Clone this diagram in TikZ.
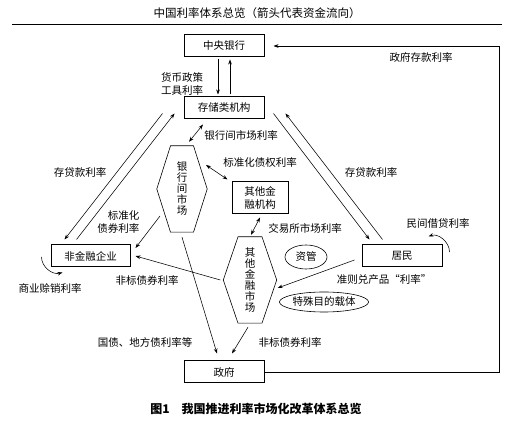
\documentclass[tikz,border=0pt]{standalone}
\usepackage{fontspec}
\setmainfont{Noto Sans CJK SC}
\usetikzlibrary{positioning,arrows.meta,shapes.geometric}
\newcommand{\hexframe}[2]{%
  \draw[line width=0.6pt] ([xshift=-#2]#1.north) -- ([xshift=#2]#1.north) -- (#1.east)
    -- ([xshift=#2]#1.south) -- ([xshift=-#2]#1.south) -- (#1.west) -- cycle;}
\tikzset{
  box/.style={draw, line width=1pt, minimum width=80pt, minimum height=22pt, inner sep=0pt},
  hexa/.style={minimum height=86pt, inner sep=0pt, align=center, font=\fontsize{10.5}{11}\selectfont},
  oval/.style={draw, ellipse, inner sep=0pt, line width=0.6pt},
  arr/.style={-{Stealth[length=5pt,width=3.6pt]}, line width=0.55pt},
  darr/.style={{Stealth[length=5pt,width=3.6pt]}-{Stealth[length=5pt,width=3.6pt]}, line width=0.55pt},
}

\begin{document}
\begin{tikzpicture}[x=1pt, y=1pt, font=\fontsize{10.5}{12.5}\selectfont]
  \useasboundingbox (0,0) rectangle (524,430);
  \node (Title) at (257,417) {\fontsize{11.5}{13}\selectfont 中国利率体系总览（箭头代表资金流向）};
  \draw[line width=0.8pt] (12,406) -- (502,406);

  \node[box] (CB) at (224,384) {中央银行};
  \node[box, on grid, below=62pt of CB] (Dep) {存储类机构};
  \node[box, on grid, below=264pt of Dep] (Gov) {政府};
  \node[box, minimum width=79pt, on grid, below left=148pt and 133.5pt of Dep] (NFE) {非金融企业};
  \node[box, on grid, right=311.5pt of NFE] (Res) {居民};
  \node[box, minimum width=56pt, minimum height=32pt, align=center] (OFI) at (260,232) {其他金\\融机构};

  \node[hexa, minimum width=50pt] (IBM) at (182,241) {银\\行\\间\\市\\场};
  \hexframe{IBM}{11.5pt}
  \node[hexa, minimum width=53pt] (OFM) at (250,150) {其\\他\\金\\融\\市\\场};
  \hexframe{OFM}{12pt}
  \node[oval, minimum width=42pt, minimum height=24pt] (AM) at (306,173) {资管};
  \node[oval, minimum width=80pt, minimum height=20pt] (SPV) at (324,128) {特殊目的载体};

  % labels
  \node (LGovDep) at (421,373) {政府存款利率};
  \node[align=center] (LMon) at (182,346) {货币政策\\工具利率};
  \node (LLoanL) at (80,258) {存贷款利率};
  \node (LLoanR) at (371,258) {存贷款利率};
  \node (LIbm) at (241,295) {银行间市场利率};
  \node (LStdDebt) at (260,267) {标准化债权利率};
  \node[align=right, anchor=east] (LStdBond) at (143,208) {标准化\\债券利率};
  \node (LExch) at (305,202) {交易所市场利率};
  \node (LPriv) at (438,206) {民间借贷利率};
  \node (LCredit) at (50,142) {商业赊销利率};
  \node (LNonStdL) at (147,150) {非标债券利率};
  \node (LRule) at (384,150) {准则兑产品“利率”};
  \node (LTreas) at (145,88) {国债、地方债利率等};
  \node (LNonStdB) at (290,88) {非标债券利率};

  % flows
  \draw[arr, shorten <=2pt, shorten >=2pt] ([xshift=-6pt]CB.south) -- ([xshift=-6pt]Dep.north);
  \draw[arr, shorten <=2pt, shorten >=2pt] ([xshift=6pt]Dep.north) -- ([xshift=6pt]CB.south);
  \draw[arr] ([xshift=-21pt,yshift=6pt]Dep.south west) -- ([xshift=14pt,yshift=5pt]NFE.north west);
  \draw[arr] ([xshift=26pt,yshift=5pt]NFE.north west) -- ([xshift=-9pt,yshift=6pt]Dep.south west);
  \draw[arr] ([xshift=9pt,yshift=6pt]Dep.south east) -- ([xshift=8pt,yshift=5pt]Res.north west);
  \draw[arr] ([xshift=21pt,yshift=5pt]Res.north west) -- ([xshift=21pt,yshift=6pt]Dep.south east);
  \draw[darr] ([xshift=7pt,yshift=4pt]IBM.north) -- ([xshift=-21pt,yshift=-5pt]Dep.south);
  \draw[darr] ([xshift=24pt,yshift=24pt]IBM.center) -- ([xshift=-4pt,yshift=2pt]OFI.north west);
  \draw[darr] ([yshift=-3pt]OFI.south) -- ([xshift=1pt,yshift=2pt]OFM.north);
  \draw[arr] ([xshift=-22pt,yshift=-27pt]IBM.center) -- ([xshift=5pt,yshift=8pt]NFE.east);
  \draw[arr] ([yshift=-5pt]IBM.south) -- ([xshift=-7pt,yshift=7pt]Gov.north);
  \draw[arr] ([xshift=-2pt,yshift=-4pt]OFM.south) -- ([xshift=8pt,yshift=7pt]Gov.north);
  \draw[arr] ([xshift=-7pt,yshift=-4pt]Res.west) -- ([xshift=1pt,yshift=-8pt]OFM.east);
  \draw[arr] ([xshift=-3pt]OFM.west) -- ([xshift=5pt]NFE.east);
  \draw[arr] ([xshift=7pt,yshift=4pt]Res.east) to[out=90,in=20] ([xshift=-14pt,yshift=8pt]Res.north east);
  \draw[arr] ([xshift=-9pt,yshift=-1pt]NFE.west) to[out=-90,in=195] ([xshift=12pt,yshift=-5pt]NFE.south west);
  \coordinate (RT) at (499,0);
  \draw[arr, shorten >=9pt] (Gov.east) -| (RT |- CB.east) -- (CB.east);

  \node (Cap) at (256,21) {\fontsize{12}{14}\selectfont\bfseries 图1\quad 我国推进利率市场化改革体系总览};
\end{tikzpicture}
\end{document}
